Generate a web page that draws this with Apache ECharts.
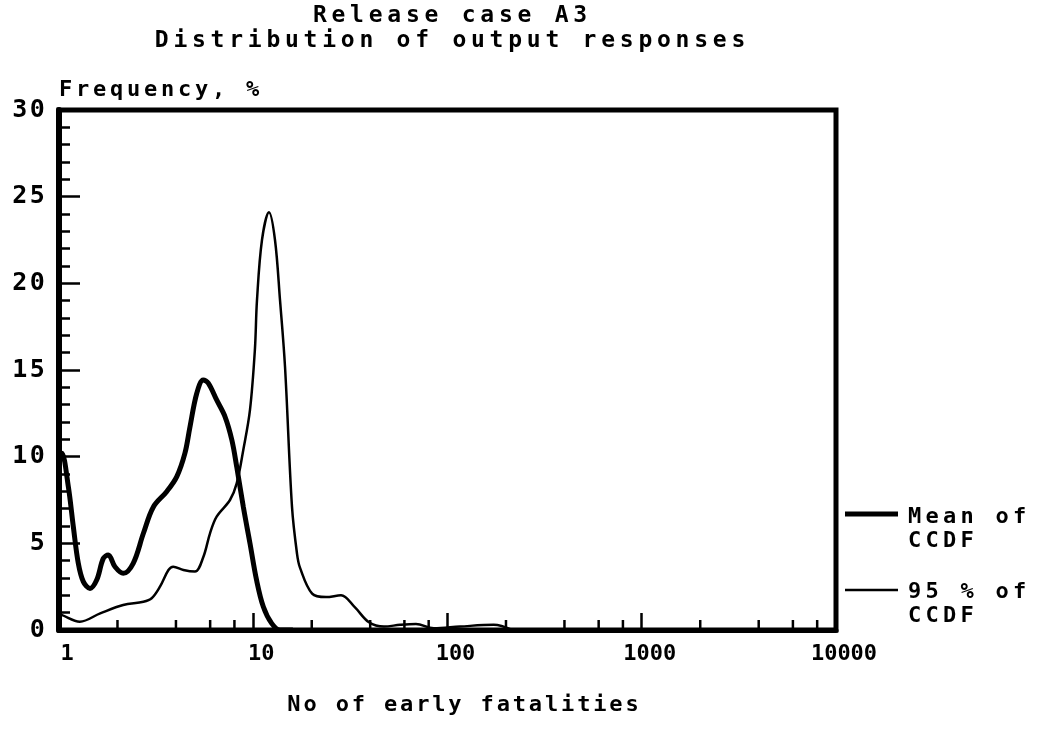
<!DOCTYPE html>
<html>
<head>
<meta charset="utf-8">
<script src="https://cdn.jsdelivr.net/npm/echarts@6/dist/echarts.min.js"></script>
<style>
  html, body { margin: 0; padding: 0; background: #fff; }
  #chart { width: 1047px; height: 739px; }
</style>
</head>
<body>
<div id="chart"></div>
<script>
// Texts
const titleLines = ['Release case A3', 'Distribution of output responses'];
const yAxisTitle = 'Frequency, %';
const xAxisTitle = 'No of early fatalities';
const seriesNames = ['Mean of\nCCDF', '95 % of\nCCDF'];

// Axis ticks
const yTickStep = 5;
const xMinorTicks = [2, 4, 6, 8, 20, 40, 60, 80, 200, 400, 600, 800, 2000, 4000, 6000, 8000];

// Mean of CCDF: frequency (%) against number of early fatalities
const meanX = [1.0, 1.035, 1.117, 1.185, 1.257, 1.334, 1.444, 1.563, 1.691, 1.793, 1.942, 2.14, 2.41, 2.72,
               3.06, 3.58, 4.04, 4.45, 4.72, 5.12, 5.53, 5.87, 6.48, 7.16, 7.76, 8.22, 8.89, 9.62,
               10.4, 11.27, 12.44, 13.74, 16];
const meanY = [9.6, 10.2, 8.27, 5.96, 3.85, 2.79, 2.4, 2.88, 4.13, 4.33, 3.65, 3.27, 3.85, 5.58,
               7.1, 7.98, 8.85, 10.2, 11.7, 13.66, 14.43, 14.24, 13.27, 12.3, 10.96, 9.42, 7.1, 5.0,
               2.88, 1.34, 0.38, 0, 0];

// 95 % of CCDF
const p95X = [1.0, 1.03, 1.28, 1.63, 2.14, 2.72, 3.0, 3.31, 3.66, 3.87, 4.37, 5.01, 5.54, 5.99,
              6.48, 7.59, 8.22, 8.89, 9.62, 10.2, 10.45, 11.09, 12.05, 12.94, 13.74, 14.57, 15.83,
              16.8, 17.4, 20.1, 23.7, 28.3, 33.4, 39.4, 47.1, 57, 68.8, 85, 116, 173, 215];
const p95Y = [0.9, 0.87, 0.48, 0.96, 1.44, 1.63, 1.83, 2.5, 3.46, 3.65, 3.46, 3.37, 4.23, 5.58,
              6.54, 7.5, 8.46, 10.4, 12.7, 16.2, 19, 22.5, 24.1, 22.5, 19, 15.2, 7.1,
              4.4, 3.6, 2.1, 1.9, 2.0, 1.3, 0.45, 0.2, 0.3, 0.35, 0.1, 0.2, 0.3, 0];

const FONT = 'DejaVu Sans Mono';

// Lay every character out in a fixed-width cell (plotter-style lettering)
function spaced(text, key) {
  return text.split('\n')
    .map(line => Array.from(line).map(ch => '{' + key + '|' + ch + '}').join(''))
    .join('\n');
}

function cell(size, width, align, extra) {
  return Object.assign({
    fontFamily: FONT, fontSize: size, fontWeight: 'bold', width: width, align: align,
    color: '#000', lineHeight: 24
  }, extra || {});
}

const chart = echarts.init(document.getElementById('chart'), null, { renderer: 'canvas' });

const pairs = (xs, ys) => xs.map((x, i) => [x, ys[i]]);

chart.setOption({
  animation: false,
  backgroundColor: '#fff',
  title: {
    text: spaced(titleLines.join('\n'), 't'),
    left: 450,
    top: 4,
    textAlign: 'center',
    padding: 0,
    textStyle: {
      rich: { t: cell(23, 18.6, 'center', { lineHeight: 25 }) }
    }
  },
  grid: {
    left: 59, right: 211, top: 110, bottom: 109,
    show: true, borderColor: '#000', borderWidth: 5, backgroundColor: '#fff'
  },
  xAxis: {
    type: 'log',
    logBase: 10,
    min: 1,
    max: 10000,
    name: spaced(xAxisTitle, 'x'),
    nameLocation: 'middle',
    nameGap: 75,
    nameTextStyle: {
      verticalAlign: 'middle',
      padding: [0, 0, 0, 31],
      rich: { x: cell(22, 16.1, 'center') }
    },
    axisLine: { show: true, lineStyle: { color: '#000', width: 5 } },
    axisTick: { show: true, inside: true, length: 17, lineStyle: { color: '#000', width: 2.5 } },
    axisLabel: {
      show: true,
      margin: 13,
      color: '#000',
      fontFamily: FONT,
      fontWeight: 'bold',
      fontSize: 22,
      padding: [0, 0, 0, 16],
      showMinLabel: true,
      showMaxLabel: true,
      formatter: v => String(Math.round(v))
    },
    splitLine: { show: false }
  },
  yAxis: {
    type: 'value',
    min: 0,
    max: 30,
    interval: yTickStep,
    name: spaced(yAxisTitle, 'n'),
    nameLocation: 'end',
    nameGap: 20,
    nameTextStyle: {
      align: 'left',
      verticalAlign: 'middle',
      padding: [0, 0, 0, 0],
      rich: { n: cell(22, 17, 'left') }
    },
    axisLine: { show: true, lineStyle: { color: '#000', width: 6 } },
    axisTick: { show: true, inside: true, length: 21, lineStyle: { color: '#000', width: 2.5 } },
    minorTick: { show: true, splitNumber: 5, length: 11, lineStyle: { color: '#000', width: 2.5 } },
    axisLabel: {
      margin: 13,
      formatter: v => spaced(String(v), 'y'),
      rich: { y: cell(25, 17.5, 'center') }
    },
    splitLine: { show: false },
    minorSplitLine: { show: false }
  },
  series: [
    {
      name: seriesNames[0],
      type: 'line',
      data: pairs(meanX, meanY),
      showSymbol: false,
      symbol: 'none',
      smooth: 0.35,
      lineStyle: { color: '#000', width: 5 },
      z: 4
    },
    {
      name: seriesNames[1],
      type: 'line',
      data: pairs(p95X, p95Y),
      showSymbol: false,
      symbol: 'none',
      smooth: 0.35,
      lineStyle: { color: '#000', width: 2.5 },
      z: 4
    },
    {
      // intermediate log-scale ticks along the bottom axis
      type: 'custom',
      silent: true,
      data: xMinorTicks.map(v => [v, 0]),
      renderItem: function (params, api) {
        const p = api.coord([api.value(0), api.value(1)]);
        return {
          type: 'line',
          shape: { x1: p[0], y1: p[1], x2: p[0], y2: p[1] - 10 },
          style: { stroke: '#000', lineWidth: 2.5 }
        };
      },
      z: 3
    }
  ],
  graphic: [
    {
      type: 'line',
      shape: { x1: 845, y1: 514, x2: 898, y2: 514 },
      style: { stroke: '#000', lineWidth: 5 }
    },
    {
      type: 'text',
      x: 908, y: 505,
      style: {
        text: spaced(seriesNames[0], 'g'),
        align: 'left', verticalAlign: 'top',
        rich: { g: cell(22, 17.5, 'left') }
      }
    },
    {
      type: 'line',
      shape: { x1: 845, y1: 590, x2: 898, y2: 590 },
      style: { stroke: '#000', lineWidth: 2.5 }
    },
    {
      type: 'text',
      x: 908, y: 580,
      style: {
        text: spaced(seriesNames[1], 'g'),
        align: 'left', verticalAlign: 'top',
        rich: { g: cell(22, 17.5, 'left') }
      }
    }
  ]
});
</script>
</body>
</html>
